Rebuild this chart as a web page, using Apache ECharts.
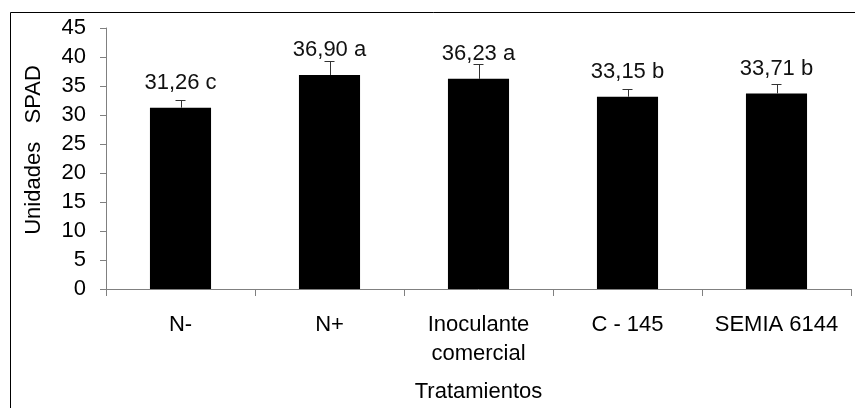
<!DOCTYPE html>
<html>
<head>
<meta charset="utf-8">
<script src="https://cdn.jsdelivr.net/npm/echarts@6/dist/echarts.min.js"></script>
<style>
  html, body { margin: 0; padding: 0; background: #fff; }
  #chart { width: 855px; height: 408px; }
</style>
</head>
<body>
<div id="chart"></div>
<script>
// Treatments and mean SPAD readings with standard error and significance letters
const categories = ['N-', 'N+', 'Inoculante\ncomercial', 'C - 145', 'SEMIA 6144'];
const means = [31.26, 36.90, 36.23, 33.15, 33.71];
const errors = [1.26, 2.37, 2.54, 1.33, 1.55];
const letters = ['c', 'a', 'a', 'b', 'b'];
const yTicks = { min: 0, max: 45, interval: 5 };
const yTitle = 'Unidades   SPAD';
const xTitle = 'Tratamientos';

const FONT = 'Liberation Sans, Arial, sans-serif';
const FS = 22;

function fmt(v) {
  return v.toFixed(2).replace('.', ',');
}

const chart = echarts.init(document.getElementById('chart'), null, { renderer: 'canvas' });

chart.setOption({
  animation: false,
  backgroundColor: '#ffffff',
  textStyle: { fontFamily: FONT },
  graphic: [
    {
      // outer frame of the figure
      type: 'rect',
      shape: { x: 10.5, y: 12.5, width: 1000, height: 1000 },
      style: { fill: 'none', stroke: '#000', lineWidth: 1 },
      silent: true,
      z: -1
    },
    {
      // vertical axis title
      type: 'text',
      x: 34,
      y: 150,
      rotation: Math.PI / 2,
      style: {
        text: yTitle,
        fontSize: FS,
        fontFamily: FONT,
        fill: '#000',
        align: 'center',
        verticalAlign: 'middle'
      },
      silent: true
    }
  ],
  grid: { left: 106, right: 4, top: 28, bottom: 119, containLabel: false },
  xAxis: {
    type: 'category',
    data: categories,
    name: xTitle,
    nameLocation: 'middle',
    nameGap: 92,
    nameTextStyle: { fontSize: FS, color: '#000', fontFamily: FONT },
    axisLine: { lineStyle: { color: '#808080', width: 1 } },
    axisTick: { show: true, length: 7, alignWithLabel: false, lineStyle: { color: '#808080' } },
    axisLabel: { fontSize: FS, color: '#000', margin: 21, lineHeight: 29, fontFamily: FONT, interval: 0 }
  },
  yAxis: {
    type: 'value',
    min: yTicks.min,
    max: yTicks.max,
    interval: yTicks.interval,
    splitLine: { show: false },
    axisLine: { show: true, lineStyle: { color: '#808080', width: 1 } },
    axisTick: { show: true, length: 6, inside: false, lineStyle: { color: '#808080' } },
    axisLabel: { fontSize: FS, color: '#000', margin: 20, fontFamily: FONT }
  },
  series: [
    {
      type: 'bar',
      data: means,
      barWidth: '41%',
      itemStyle: { color: '#000' },
      label: {
        show: true,
        position: 'top',
        distance: 14,
        fontSize: FS,
        color: '#111',
        fontFamily: FONT,
        formatter: p => fmt(p.value) + ' ' + letters[p.dataIndex]
      },
      z: 2
    },
    {
      type: 'custom',
      data: means.map((m, i) => [i, m, m + errors[i]]),
      renderItem: (params, api) => {
        const x = api.coord([api.value(0), api.value(1)])[0];
        const y0 = api.coord([api.value(0), api.value(1)])[1];
        const y1 = api.coord([api.value(0), api.value(2)])[1];
        const half = 5;
        const style = { stroke: '#333', lineWidth: 1 };
        return {
          type: 'group',
          children: [
            { type: 'line', shape: { x1: Math.round(x) + 0.5, y1: y0, x2: Math.round(x) + 0.5, y2: y1 }, style },
            { type: 'line', shape: { x1: x - half, y1: Math.round(y1) + 0.5, x2: x + half, y2: Math.round(y1) + 0.5 }, style }
          ]
        };
      },
      z: 3
    }
  ]
});
</script>
</body>
</html>
